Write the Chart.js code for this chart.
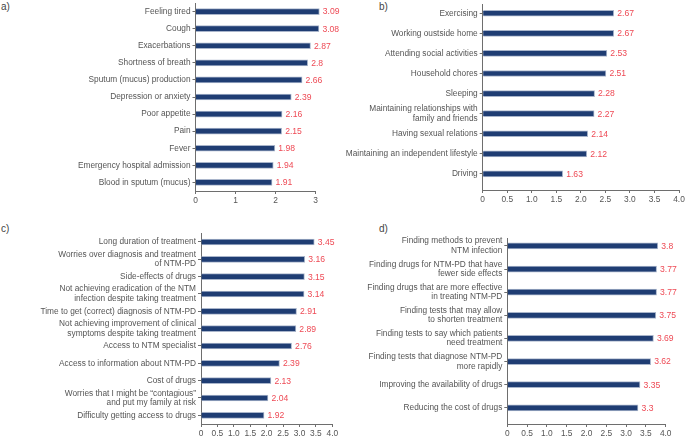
<!DOCTYPE html>
<html>
<head>
<meta charset="utf-8">
<script src="https://cdn.jsdelivr.net/npm/chart.js@4/dist/chart.umd.min.js"></script>
<style>
  body { margin: 0; background: #fff; width: 685px; height: 439px; position: relative; overflow: hidden; font-family: "Liberation Sans", Arial, sans-serif; }
  canvas { position: absolute; left: 0; top: 0; }
  .tag { position: absolute; font-size: 10px; color: #444; line-height: 12px; }
</style>
</head>
<body>
<div class="tag" style="left:1px;top:1px">a)</div>
<div class="tag" style="left:379px;top:1px">b)</div>
<div class="tag" style="left:1px;top:223px">c)</div>
<div class="tag" style="left:379px;top:223px">d)</div>
<canvas id="chartA" width="685" height="439"></canvas>
<canvas id="chartB" width="685" height="439"></canvas>
<canvas id="chartC" width="685" height="439"></canvas>
<canvas id="chartD" width="685" height="439"></canvas>
<script>
// a) symptoms
const aLabels = ["Feeling tired", "Cough", "Exacerbations", "Shortness of breath", "Sputum (mucus) production",
  "Depression or anxiety", "Poor appetite", "Pain", "Fever", "Emergency hospital admission", "Blood in sputum (mucus)"];
const aValues = [3.09, 3.08, 2.87, 2.8, 2.66, 2.39, 2.16, 2.15, 1.98, 1.94, 1.91];

// b) activities
const bLabels = ["Exercising", "Working oustside home", "Attending social activities", "Household chores", "Sleeping",
  ["Maintaining relationships with", "family and friends"], "Having sexual relations",
  "Maintaining an independent lifestyle", "Driving"];
const bValues = [2.67, 2.67, 2.53, 2.51, 2.28, 2.27, 2.14, 2.12, 1.63];

// c) concerns
const cLabels = ["Long duration of treatment", ["Worries over diagnosis and treatment", "of NTM-PD"],
  "Side-effects of drugs", ["Not achieving eradication of the NTM", "infection despite taking treatment"],
  "Time to get (correct) diagnosis of NTM-PD", ["Not achieving improvement of clinical", "symptoms despite taking treatment"],
  "Access to NTM specialist", "Access to information about NTM-PD", "Cost of drugs",
  ["Worries that I might be \u201ccontagious\u201d", "and put my family at risk"], "Difficulty getting access to drugs"];
const cValues = [3.45, 3.16, 3.15, 3.14, 2.91, 2.89, 2.76, 2.39, 2.13, 2.04, 1.92];

// d) research priorities
const dLabels = [["Finding methods to prevent", "NTM infection"], ["Finding drugs for NTM-PD that have", "fewer side effects"],
  ["Finding drugs that are more effective", "in treating NTM-PD"], ["Finding tests that may allow", "to shorten treatment"],
  ["Finding tests to say which patients", "need treatment"], ["Finding tests that diagnose NTM-PD", "more rapidly"],
  "Improving the availability of drugs", "Reducing the cost of drugs"];
const dValues = [3.8, 3.77, 3.77, 3.75, 3.69, 3.62, 3.35, 3.3];

const NAVY = "#1f3d73";
const EDGE = "#a9b5cb";
const AXIS = "#6e6e6e";
const TEXT = "#555555";
const RED = "#ee4a55";
const FONT = "Liberation Sans";
const W = 685, H = 439;

const wholeTicks = (v) => String(v);
const halfTicks = (v) => v === 0 ? "0" : v.toFixed(1);

// red value labels at the end of each bar
const valueLabels = {
  id: "valueLabels",
  afterDatasetsDraw(chart) {
    const ctx = chart.ctx;
    const vals = chart.data.datasets[0].data;
    ctx.save();
    ctx.font = "8.6px '" + FONT + "'";
    ctx.fillStyle = RED;
    ctx.textBaseline = "middle";
    chart.getDatasetMeta(0).data.forEach((bar, i) => {
      ctx.fillText(String(vals[i]), bar.x + 3.5, bar.y + 0.5);
    });
    ctx.restore();
  }
};

function panel(id, labels, values, box, xMax, xStep, fmt) {
  new Chart(document.getElementById(id), {
    type: "bar",
    data: {
      labels: labels,
      datasets: [{ data: values, backgroundColor: NAVY, borderColor: EDGE, borderWidth: 1, barThickness: 6, clip: false }]
    },
    options: {
      indexAxis: "y",
      responsive: false,
      animation: false,
      layout: { padding: { left: 0, top: box.top, right: W - box.right, bottom: H - box.bottom - 20 } },
      plugins: { legend: { display: false }, tooltip: { enabled: false } },
      scales: {
        x: {
          min: 0, max: xMax,
          ticks: { stepSize: xStep, callback: fmt, color: TEXT, font: { family: FONT, size: 8.4, lineHeight: 1 }, padding: 2, maxRotation: 0, autoSkip: false },
          grid: { drawOnChartArea: false, tickLength: 3, color: AXIS },
          border: { color: AXIS },
          afterFit: (s) => { s.height = 20; s.paddingLeft = 0; s.paddingRight = 0; }
        },
        y: {
          ticks: { color: TEXT, font: { family: FONT, size: 8.3, lineHeight: 1.15 }, padding: 2, autoSkip: false },
          grid: { offset: false, drawOnChartArea: false, tickLength: 3, color: AXIS },
          border: { color: AXIS },
          afterFit: (s) => { s.width = box.left; s.paddingTop = 0; s.paddingBottom = 0; },
          afterBuildTicks: (s) => {
            s._startValue = s.min - box.padTop;
            s._valueRange = s.max - s.min + box.padTop + box.padBottom;
          }
        }
      }
    },
    plugins: [valueLabels]
  });
}

panel("chartA", aLabels, aValues, { left: 195.5, right: 315.7, top: 3, bottom: 191, padTop: 0.5, padBottom: 0.5 }, 3, 1, wholeTicks);
panel("chartB", bLabels, bValues, { left: 482.7, right: 679, top: 4, bottom: 190, padTop: 0.46, padBottom: 0.8 }, 4, 0.5, halfTicks);
panel("chartC", cLabels, cValues, { left: 201, right: 332.3, top: 233.3, bottom: 424, padTop: 0.5, padBottom: 0.5 }, 4, 0.5, halfTicks);
panel("chartD", dLabels, dValues, { left: 507.3, right: 665.7, top: 238.3, bottom: 424, padTop: 0.33, padBottom: 0.7 }, 4, 0.5, halfTicks);
</script>
</body>
</html>
